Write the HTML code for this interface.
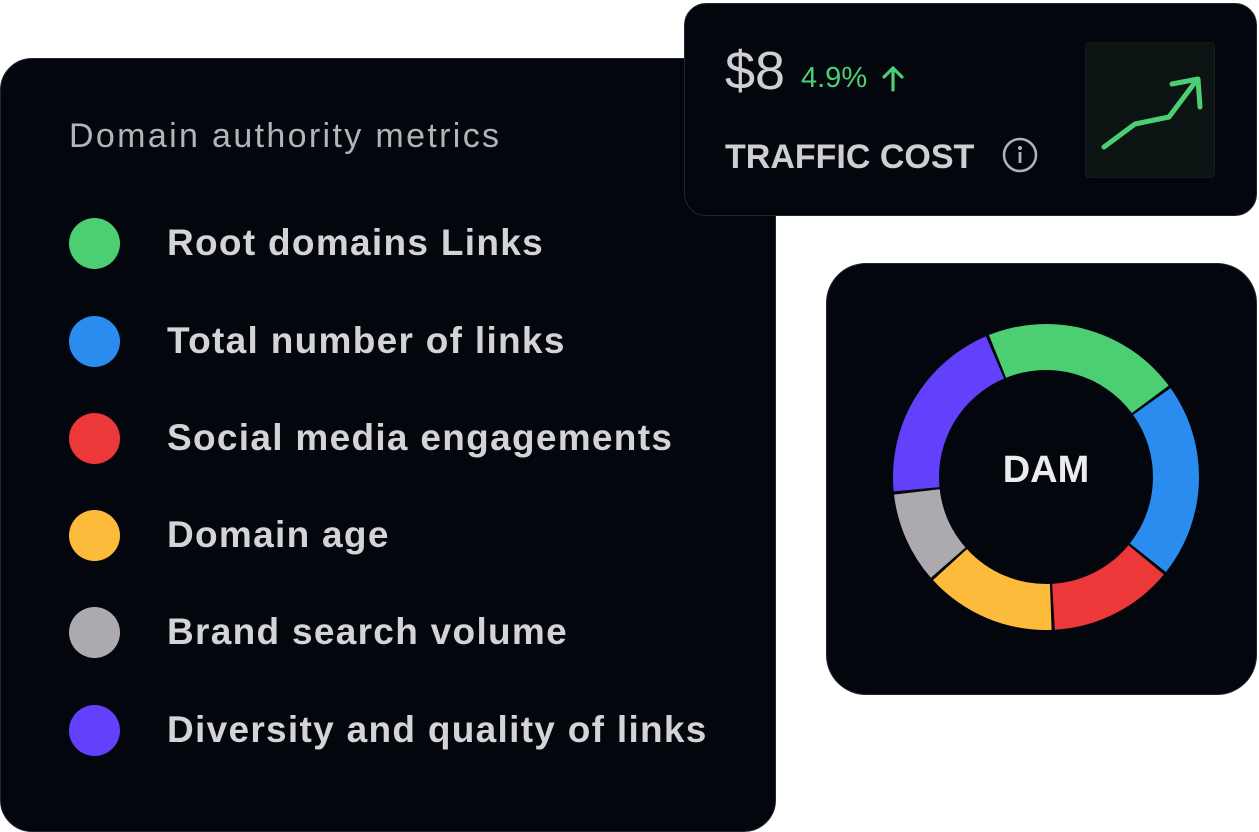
<!DOCTYPE html>
<html><head><meta charset="utf-8"><style>
body{margin:0;width:1259px;height:832px;background:#fff;position:relative;overflow:hidden;font-family:"Liberation Sans",sans-serif}
.card{position:absolute;background:#03060c;border:1.5px solid #1f2830;box-sizing:border-box}
.t{position:absolute;white-space:nowrap}
.dot{position:absolute;left:69px;width:51px;height:51px;border-radius:50%}
.lbl{position:absolute;left:167px;font-size:37px;letter-spacing:1.3px;color:#d4d4d6;font-weight:bold;white-space:nowrap;line-height:40px}
</style></head><body>
<div class="card" style="left:0;top:58px;width:776px;height:774px;border-radius:32px"></div>
<div class="t" style="left:69px;top:117px;font-size:34px;letter-spacing:2.35px;color:#b4b4b8;line-height:38px">Domain authority metrics</div>
<div class="dot" style="top:218px;background:#4ccf73"></div><div class="lbl" style="top:223px">Root domains Links</div>
<div class="dot" style="top:316px;background:#2b8cf0"></div><div class="lbl" style="top:321px">Total number of links</div>
<div class="dot" style="top:413px;background:#ec3838"></div><div class="lbl" style="top:418px">Social media engagements</div>
<div class="dot" style="top:510px;background:#fdbb3c"></div><div class="lbl" style="top:515px">Domain age</div>
<div class="dot" style="top:607px;background:#acaaae"></div><div class="lbl" style="top:612px">Brand search volume</div>
<div class="dot" style="top:705px;background:#6340fb"></div><div class="lbl" style="top:710px">Diversity and quality of links</div>

<div class="card" style="left:684px;top:3px;width:573px;height:213px;border-radius:22px"></div>
<div class="t" style="left:725px;top:40px;font-size:54px;color:#cfcfd2;line-height:62px">$8</div>
<div class="t" style="left:801px;top:60px;font-size:29px;color:#4ccf73;line-height:36px">4.9%</div>
<svg style="position:absolute;left:880px;top:64px" width="26" height="28"><path d="M13,26V4M4,13L13,4L22,13" fill="none" stroke="#4ccf73" stroke-width="3.2" stroke-linecap="round" stroke-linejoin="round"/></svg>
<div class="t" style="left:725px;top:137px;font-size:34px;font-weight:bold;color:#cfcfd2;line-height:40px">TRAFFIC COST</div>
<svg style="position:absolute;left:1002px;top:137px" width="36" height="36"><circle cx="18" cy="18" r="16" fill="none" stroke="#b4b4b8" stroke-width="2.5"/><circle cx="18" cy="11" r="2" fill="#b4b4b8"/><rect x="16.6" y="15" width="2.8" height="11" fill="#b4b4b8"/></svg>
<div style="position:absolute;left:1085px;top:42px;width:130px;height:136px;background:#0b1412;border:1px solid #141d1a;border-radius:4px;box-sizing:border-box"></div>
<svg style="position:absolute;left:0;top:0" width="1259" height="832">
<polyline points="1104,147 1135,124 1169,117 1196,81" fill="none" stroke="#4ccf73" stroke-width="5" stroke-linecap="round" stroke-linejoin="round"/>
<polyline points="1172,84 1198,79 1200,107" fill="none" stroke="#4ccf73" stroke-width="5" stroke-linecap="round" stroke-linejoin="round"/>
</svg>

<div class="card" style="left:826px;top:263px;width:431px;height:432px;border-radius:40px"></div>
<svg style="position:absolute;left:0;top:0" width="1259" height="832" id="d"></svg>
<div class="t" style="left:996px;top:448px;width:100px;text-align:center;font-size:38px;font-weight:bold;color:#ececec;line-height:44px">DAM</div>
<script>
const cx=1046,cy=477,R=153,r=107;
const segs=[[337.5,413.9,'#4ccf73'],[53.9,129,'#2b8cf0'],[129,177.3,'#ec3838'],[177.3,228.2,'#fdbb3c'],[228.2,264,'#acaaae'],[264,337.5,'#6340fb']];
function p(a,rad){a=a*Math.PI/180;return [cx+rad*Math.sin(a),cy-rad*Math.cos(a)];}
let s='';
for(const [a,b,c] of segs){const g=0.6;const A=a+g,B=b-g;const l=(B-A)>180?1:0;
const [x1,y1]=p(A,R),[x2,y2]=p(B,R),[x3,y3]=p(B,r),[x4,y4]=p(A,r);
s+=`<path d="M${x1},${y1}A${R},${R} 0 ${l} 1 ${x2},${y2}L${x3},${y3}A${r},${r} 0 ${l} 0 ${x4},${y4}Z" fill="${c}"/>`;}
document.getElementById('d').innerHTML=s;
</script>
</body></html>
